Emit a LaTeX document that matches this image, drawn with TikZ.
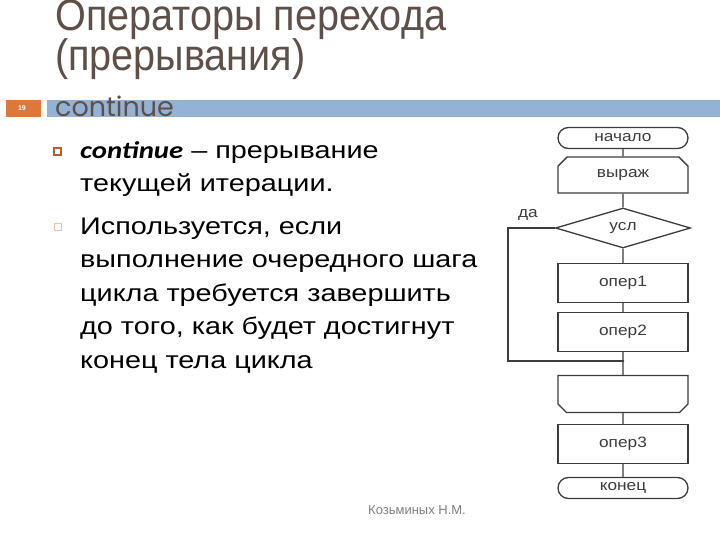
\documentclass[tikz,border=0pt]{standalone}
\usepackage{fontspec}
\setmainfont{Liberation Sans}
\newfontfamily\titlefont[FakeStretch=0.9]{Liberation Sans}
\newfontfamily\bodyfont[FakeStretch=1.2]{Liberation Sans}
\newfontfamily\keyfont[FakeStretch=1.2]{Carlito}
\newfontfamily\chartfont[FakeStretch=1.15]{Liberation Sans}
\newfontfamily\subfont{Poppins}
\usetikzlibrary{shapes.geometric,shapes.misc}
\definecolor{titlegray}{RGB}{94,80,72}
\definecolor{bandblue}{RGB}{148,179,212}
\definecolor{slideorange}{RGB}{222,120,58}
\definecolor{chartgray}{RGB}{60,60,60}

\begin{document}
\begin{tikzpicture}[x=1pt,y=-1pt,
  chart/.style={draw=chartgray, line width=1.3pt},
  box/.style={chart, rectangle, minimum width=130pt, minimum height=39pt, inner sep=0pt, font=\chartfont\fontsize{15}{17}\selectfont, text=chartgray},
  term/.style={box, rounded rectangle, minimum height=21pt},
  looptop/.style={box, chamfered rectangle, chamfered rectangle corners={north west,north east}, chamfered rectangle xsep=9pt, minimum height=36pt},
  loopbot/.style={box, chamfered rectangle, chamfered rectangle corners={south west,south east}, chamfered rectangle xsep=9pt, minimum height=37pt},
  cond/.style={box, diamond, aspect=3.4, minimum width=135pt, minimum height=40pt},
  para/.style={anchor=base west, inner sep=0pt, align=left, font=\bodyfont\fontsize{24}{33.5}\selectfont}]
  \useasboundingbox (0,0) rectangle (720,540);
  \fill[white] (0,0) rectangle (720,540);
  % title
  \node[anchor=base west, inner sep=0pt, text=titlegray, font=\titlefont\fontsize{44}{44}\selectfont] (title1) at (55,31) {Операторы перехода};
  \node[anchor=base west, inner sep=0pt, text=titlegray, font=\titlefont\fontsize{44}{44}\selectfont] (title2) at (55,71) {(прерывания)};
  \fill[bandblue] (47,100) rectangle (720,117);
  \fill[slideorange] (6,100) rectangle (41,117);
  \node[text=white, font=\fontsize{7}{8}\selectfont\bfseries] (num) at (22,108.5) {19};
  \node[anchor=base west, inner sep=0pt, text=titlegray, font=\subfont\fontsize{27}{27}\selectfont] (sub) at (55,117) {continue};
  % bullets
  \draw[slideorange!80!black, line width=1.2pt] (54,148) rectangle (61,155);
  \draw[slideorange!45!white, line width=0.8pt] (54,223) rectangle (61,230);
  \node[para] (p1) at (80,192)
    {{\keyfont\bfseries\itshape continue} – прерывание\\текущей итерации.};
  \node[para] (p2) at (80,368)
    {Используется, если\\выполнение очередного шага\\цикла требуется завершить\\до того, как будет достигнут\\конец тела цикла};
  \node[text=gray, font=\fontsize{13}{15}\selectfont] (author) at (417,510) {Козьминых Н.М.};
  % flowchart
  \node[term] (start) at (623,138) {начало};
  \node[looptop] (expr) at (623,175) {выраж};
  \node[cond] (check) at (623,228) {усл};
  \node[box] (op1) at (623,283) {опер1};
  \node[box] (op2) at (623,332) {опер2};
  \node[loopbot] (loopend) at (623,394) {\strut};
  \node[box] (op3) at (623,444) {опер3};
  \node[term] (stop) at (623,488) {конец};
  \coordinate (join) at (623,361);
  \draw[chart] (start) -- (expr) -- (check) -- (op1) -- (op2) -- (loopend) -- (op3) -- (stop);
  \draw[chart] (check.west) -- ++(-47,0) |- (join);
  \fill[chartgray] (join) circle (1.3pt);
  \node[font=\chartfont\fontsize{15}{17}\selectfont, text=chartgray] (yes) at (528,215) {да};
\end{tikzpicture}
\end{document}
